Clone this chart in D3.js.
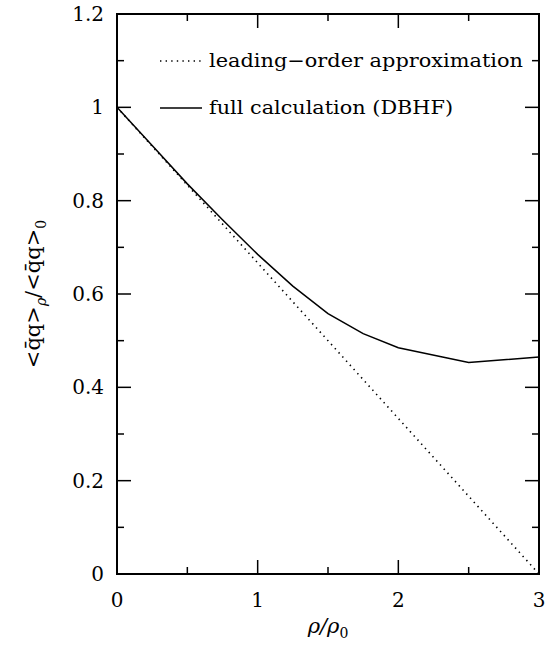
<!DOCTYPE html>
<html>
<head>
<meta charset="utf-8">
<script src="https://cdn.jsdelivr.net/npm/d3@7"></script>
<style>
  body { margin: 0; background: #fff; }
  text { font-family: "DejaVu Serif", serif; fill: #000; }
</style>
</head>
<body>
<div id="chart"></div>
<script>
// density ratio rho/rho0
const rho = [0, 0.25, 0.5, 0.75, 1, 1.25, 1.5, 1.75, 2, 2.5, 3]
// full calculation (DBHF)
const fullCalc = [1, 0.918, 0.836, 0.759, 0.685, 0.617, 0.558, 0.515, 0.485, 0.453, 0.465]
// leading-order approximation (straight line)
const leadRho = [0, 3]
const leadVal = [1, 0]

const xTicks = [0, 1, 2, 3]
const xMinor = [0.5, 1.5, 2.5]
const yTicks = [0, 0.2, 0.4, 0.6, 0.8, 1, 1.2]
const yMinor = [0.1, 0.3, 0.5, 0.7, 0.9, 1.1]
const legendLabels = ["leading\u2212order approximation", "full calculation (DBHF)"]

const width = 545, height = 650
const margin = { top: 14, right: 6, bottom: 76, left: 117 }

const svg = d3.select("#chart").append("svg")
    .attr("width", width)
    .attr("height", height)

const x = d3.scaleLinear().domain([0, 3]).range([margin.left, width - margin.right])
const y = d3.scaleLinear().domain([0, 1.2]).range([height - margin.bottom, margin.top])

const majorLen = 14, minorLen = 7

// frame
svg.append("rect")
    .attr("x", x(0)).attr("y", y(1.2))
    .attr("width", x(3) - x(0)).attr("height", y(0) - y(1.2))
    .attr("fill", "none").attr("stroke", "#000").attr("stroke-width", 2)

// ticks, inward on all four sides
const tickG = svg.append("g").attr("stroke", "#000").attr("stroke-width", 1.5)
xTicks.concat(xMinor).forEach(t => {
    const len = xTicks.includes(t) ? majorLen : minorLen
    tickG.append("line").attr("x1", x(t)).attr("x2", x(t)).attr("y1", y(0)).attr("y2", y(0) - len)
    tickG.append("line").attr("x1", x(t)).attr("x2", x(t)).attr("y1", y(1.2)).attr("y2", y(1.2) + len)
})
yTicks.concat(yMinor).forEach(t => {
    const len = yTicks.includes(t) ? majorLen : minorLen
    tickG.append("line").attr("y1", y(t)).attr("y2", y(t)).attr("x1", x(0)).attr("x2", x(0) + len)
    tickG.append("line").attr("y1", y(t)).attr("y2", y(t)).attr("x1", x(3)).attr("x2", x(3) - len)
})

// tick labels
svg.append("g").selectAll("text")
    .data(xTicks)
    .join("text")
    .attr("x", d => x(d))
    .attr("y", y(0) + 33)
    .attr("text-anchor", "middle")
    .attr("font-size", 20)
    .text(d => d)

svg.append("g").selectAll("text")
    .data(yTicks)
    .join("text")
    .attr("x", x(0) - 13)
    .attr("y", d => y(d) + 7)
    .attr("text-anchor", "end")
    .attr("font-size", 20)
    .text(d => d)

// axis titles
const xt = svg.append("text")
    .attr("x", (x(0) + x(3)) / 2)
    .attr("y", 633)
    .attr("text-anchor", "middle")
    .attr("font-size", 21)
xt.append("tspan").attr("font-style", "italic").text("\u03c1/\u03c1")
xt.append("tspan").attr("font-size", 14).attr("dy", 5).text("0")

const yt = svg.append("text")
    .attr("transform", `translate(40,${(y(0) + y(1.2)) / 2}) rotate(-90)`)
    .attr("text-anchor", "middle")
    .attr("font-size", 21)
yt.append("tspan").text("<q\u0304q>")
yt.append("tspan").attr("font-size", 14).attr("dy", 6).attr("font-style", "italic").text("\u03c1")
yt.append("tspan").attr("dy", -6).text("/<q\u0304q>")
yt.append("tspan").attr("font-size", 14).attr("dy", 6).text("0")

// lines
const line = d3.line().x(d => x(d[0])).y(d => y(d[1]))

svg.append("path")
    .datum(d3.zip(leadRho, leadVal))
    .attr("d", line)
    .attr("fill", "none")
    .attr("stroke", "#000")
    .attr("stroke-width", 1.6)
    .attr("stroke-dasharray", "1.4,4.2")

svg.append("path")
    .datum(d3.zip(rho, fullCalc))
    .attr("d", line)
    .attr("fill", "none")
    .attr("stroke", "#000")
    .attr("stroke-width", 1.5)

// legend
const legend = svg.append("g")
legendLabels.forEach((lab, i) => {
    const ly = 61 + i * 47
    legend.append("line")
        .attr("x1", 160).attr("x2", 202).attr("y1", ly).attr("y2", ly)
        .attr("stroke", "#000")
        .attr("stroke-width", i == 0 ? 1.6 : 1.5)
        .attr("stroke-dasharray", i == 0 ? "1.4,4.2" : null)
    legend.append("text")
        .attr("x", 209)
        .attr("y", ly + 6)
        .attr("font-size", 19)
        .attr("textLength", i == 0 ? 314 : 244)
        .attr("lengthAdjust", "spacingAndGlyphs")
        .text(lab)
})
</script>
</body>
</html>
